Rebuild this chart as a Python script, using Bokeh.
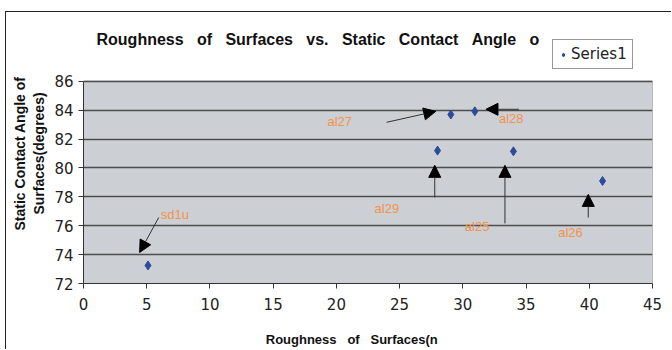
from bokeh.plotting import figure
from bokeh.models import (Range1d, ColumnDataSource, Arrow, NormalHead, Label,
                          Legend, LegendItem, FixedTicker)
from bokeh.embed import file_html
from bokeh.resources import INLINE
from bokeh.core.properties import value

# ---- data ----
roughness = [5.1, 28.0, 29.05, 30.95, 34.0, 41.05]
contact_angle = [73.25, 81.2, 83.7, 83.92, 81.15, 79.1]

note_text = ["sd1u", "al27", "al28", "al29", "al25", "al26"]
note_x = [6.11, 19.29, 32.86, 23.02, 30.16, 37.54]
note_y = [76.78, 83.23, 83.43, 77.2, 75.95, 75.53]
arrow_x_start = [5.95, 23.97, 34.44, 27.78, 33.33, 39.92]
arrow_y_start = [76.57, 83.16, 84.06, 77.96, 76.16, 76.57]
arrow_x_end = [4.44, 27.86, 31.83, 27.78, 33.33, 39.92]
arrow_y_end = [74.15, 83.92, 84.06, 80.18, 80.18, 78.17]

x_ticks = [0, 5, 10, 15, 20, 25, 30, 35, 40, 45]
y_ticks = [72, 74, 76, 78, 80, 82, 84, 86]

NB = "\u00a0"
SP3 = " " + NB * 2
title_text = SP3.join(["Roughness", "of", "Surfaces", "vs.", "Static",
                       "Contact", "Angle", "o"])
# trailing no-break spaces only nudge the centred axis title
x_title = SP3.join(["Roughness", "of", "Surfaces(n"]) + NB * 9
y_title = "Static Contact Angle of\nSurfaces(degrees)"
series_name = "Series1"

# ---- figure (outer chart border drawn with CSS) ----
# the frame reaches up to the title row; the plot area itself is 72..86
p = figure(width=666, height=338, output_backend="svg", toolbar_location=None,
           x_range=Range1d(x_ticks[0], x_ticks[-1]), y_range=Range1d(72, 90),
           min_border_left=77, min_border_right=20, min_border_top=11,
           min_border_bottom=67, margin=(11, 0, 0, 5),
           styles={"border-left": "1px solid #222222",
                   "border-top": "1px solid #222222"})
p.background_fill_color = "white"
p.border_fill_color = "white"
p.outline_line_color = None

# gray plot area
p.quad(left=[x_ticks[0]], right=[x_ticks[-1]], bottom=[y_ticks[0]], top=[y_ticks[-1]],
       fill_color="#CCCFD3", line_color="#808080", line_width=1, level="image")

p.xgrid.visible = False
p.ygrid.grid_line_color = "#4d4d4d"
p.ygrid.grid_line_width = 1.5
p.ygrid.ticker = FixedTicker(ticks=y_ticks)

for ax in (p.xaxis, p.yaxis):
    ax.axis_line_color = "#333333"
    ax.major_tick_line_color = "#333333"
    ax.major_tick_in = 0
    ax.major_tick_out = 5
    ax.minor_tick_line_color = None
    ax.major_label_text_font = "DejaVu Sans"
    ax.major_label_text_font_size = "15px"
    ax.major_label_text_color = "#222222"
    ax.axis_label_text_font = "Liberation Sans"
    ax.axis_label_text_font_style = "bold"
    ax.axis_label_text_color = "#111111"

p.xaxis.ticker = FixedTicker(ticks=x_ticks)
p.yaxis.ticker = FixedTicker(ticks=y_ticks)
p.yaxis.bounds = (y_ticks[0], y_ticks[-1])
p.xaxis.major_label_standoff = 9
p.yaxis.major_label_standoff = 5
p.xaxis.axis_label = x_title
p.yaxis.axis_label = y_title
p.xaxis.axis_label_text_font_size = "13px"
p.yaxis.axis_label_text_font_size = "14px"
p.xaxis.axis_label_standoff = 19
p.yaxis.axis_label_standoff = 4

# ---- points ----
pts = ColumnDataSource(dict(x=roughness, y=contact_angle))
r = p.scatter("x", "y", source=pts, marker="diamond", size=9,
              fill_color="#2E4A9B", line_color="#2E4A9B")

# ---- annotations ----
arr = ColumnDataSource(dict(x0=arrow_x_start, y0=arrow_y_start,
                            x1=arrow_x_end, y1=arrow_y_end))
p.add_layout(Arrow(end=NormalHead(size=12, fill_color="black", line_color="black"),
                   x_start="x0", y_start="y0", x_end="x1", y_end="y1",
                   source=arr, line_color="#333333", line_width=1))

notes = ColumnDataSource(dict(x=note_x, y=note_y, t=note_text))
p.text("x", "y", text="t", source=notes, text_font=value("Liberation Sans"),
       text_font_size="13px", text_color="#F5924A", text_align="left",
       text_baseline="middle")

# ---- title (screen offsets from the frame's bottom-left) ----
p.add_layout(Label(x=13, y=244, x_units="screen", y_units="screen",
                   text=title_text, text_font="Liberation Sans",
                   text_font_style="bold", text_font_size="16px",
                   text_color="#111111", text_baseline="alphabetic"))

# ---- legend ----
leg = Legend(items=[LegendItem(label=series_name, renderers=[r])],
             location=(469, 214), padding=5, margin=0, spacing=0,
             glyph_width=10, glyph_height=15, label_standoff=3,
             label_text_font="DejaVu Sans", label_text_font_size="15px",
             label_text_color="#222222",
             border_line_color="#333333", border_line_width=1,
             background_fill_color="white", background_fill_alpha=1)
p.add_layout(leg, "center")

open("out.html", "w").write(file_html(p, INLINE))
